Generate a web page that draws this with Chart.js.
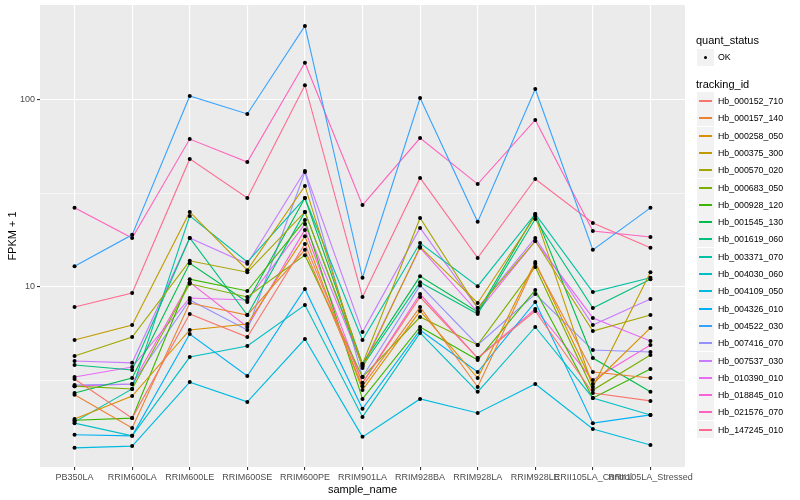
<!DOCTYPE html>
<html>
<head>
<meta charset="utf-8">
<script src="https://cdn.jsdelivr.net/npm/chart.js@4.4.1/dist/chart.umd.min.js"></script>
<style>
  body { margin: 0; background: #fff; font-family: "Liberation Sans", Arial, sans-serif; }
  #wrap { position: relative; width: 800px; height: 500px; }
  #myChart { position: absolute; left: 0; top: 0; }
  .lg-title { position: absolute; left: 696px; font-size: 11px; color: #000; line-height: 13px; }
  .lg-key { position: absolute; left: 697px; width: 17px; height: 17px; background: #F2F2F2; }
  .lg-key i { display: block; position: absolute; left: 2px; right: 2px; top: 8px; height: 2px; }
  .lg-key b { position: absolute; left: 7px; top: 7px; width: 3px; height: 3px; border-radius: 50%; background: #000; }
  .lg-text { position: absolute; left: 718px; font-size: 8.8px; color: #000; line-height: 10px; }
</style>
</head>
<body>
<div id="wrap">
  <canvas id="myChart" width="800" height="500"></canvas>
  <div id="legend"></div>
</div>
<script>
// サンプル名（x軸）
const sampleNames = ['PB350LA', 'RRIM600LA', 'RRIM600LE', 'RRIM600SE', 'RRIM600PE', 'RRIM901LA',
  'RRIM928BA', 'RRIM928LA', 'RRIM928LE', 'RRII105LA_Control', 'RRII105LA_Stressed'];

// tracking_id と色
const trackingIds = ['Hb_000152_710', 'Hb_000157_140', 'Hb_000258_050', 'Hb_000375_300', 'Hb_000570_020',
  'Hb_000683_050', 'Hb_000928_120', 'Hb_001545_130', 'Hb_001619_060', 'Hb_003371_070',
  'Hb_004030_060', 'Hb_004109_050', 'Hb_004326_010', 'Hb_004522_030', 'Hb_007416_070',
  'Hb_007537_030', 'Hb_010390_010', 'Hb_018845_010', 'Hb_021576_070', 'Hb_147245_010'];
const seriesColors = ['#F8766D', '#EA8331', '#D89000', '#C09B00', '#A3A500',
  '#7CAE00', '#39B600', '#00BB4E', '#00BF7D', '#00C1A3',
  '#00BFC4', '#00BAE0', '#00B0F6', '#35A2FF', '#9590FF',
  '#C77CFF', '#E76BF3', '#FA62DB', '#FF62BC', '#FF6C91'];

// FPKM + 1 の値
const hb000152_710 = [3.22, 1.99, 7.17, 5.40, 17.0, 3.07, 8.84, 4.17, 7.44, 2.71, 2.46];
const hb000157_140 = [2.65, 1.76, 8.21, 7.08, 15.8, 2.95, 7.82, 2.92, 13.3, 3.51, 3.26];
const hb000258_050 = [1.97, 2.61, 5.89, 6.34, 18.7, 2.81, 7.44, 3.26, 13.6, 3.03, 6.04];
const hb000375_300 = [5.21, 6.26, 25.2, 12.3, 34.7, 3.69, 16.4, 8.21, 24.0, 2.92, 12.0];
const hb000570_020 = [4.28, 5.40, 13.8, 12.0, 25.2, 3.88, 23.4, 7.72, 17.6, 5.81, 7.08];
const hb000683_050 = [2.95, 2.85, 10.4, 8.84, 14.8, 3.30, 6.91, 4.90, 12.8, 2.81, 4.33];
const hb000928_120 = [1.94, 1.99, 11.0, 9.52, 22.8, 2.52, 6.11, 4.07, 9.64, 2.55, 3.64];
const hb001545_130 = [2.71, 3.26, 13.4, 8.31, 29.9, 3.88, 11.4, 7.35, 24.6, 4.17, 2.75];
const hb001619_060 = [3.83, 3.60, 18.3, 7.08, 25.2, 3.78, 10.6, 7.17, 23.1, 7.72, 11.0];
const hb003371_070 = [1.90, 2.85, 24.0, 13.6, 29.9, 5.21, 17.2, 10.1, 24.6, 9.40, 11.2];
const hb004030_060 = [1.87, 1.60, 4.22, 4.84, 8.01, 2.02, 5.68, 2.75, 6.11, 2.55, 2.07];
const hb004109_050 = [1.38, 1.41, 3.10, 2.43, 5.27, 1.58, 2.52, 2.12, 3.03, 1.74, 1.43];
const hb004326_010 = [1.62, 1.60, 5.61, 3.34, 9.76, 2.23, 5.89, 3.51, 8.31, 1.87, 2.07];
const hb004522_030 = [12.9, 19.0, 105, 84.2, 249, 11.2, 102.5, 22.3, 114.5, 15.8, 26.5];
const hb007416_070 = [2.99, 3.03, 8.52, 5.89, 41.2, 3.30, 10.2, 4.90, 9.17, 4.60, 4.49];
const hb007537_030 = [4.02, 3.93, 18.3, 13.3, 41.7, 5.74, 20.7, 7.72, 18.3, 6.26, 8.63];
const hb010390_010 = [3.30, 3.73, 8.73, 8.52, 21.7, 3.78, 16.2, 7.35, 17.6, 6.83, 5.14];
const hb018845_010 = [2.95, 3.03, 10.6, 6.11, 20.2, 3.07, 9.17, 4.17, 7.63, 3.18, 4.90];
const hb021576_070 = [26.5, 18.3, 61.8, 46.6, 158, 27.4, 62.6, 35.5, 78.2, 19.9, 18.5];
const hb147245_010 = [7.82, 9.29, 48.4, 29.9, 120, 8.84, 38.3, 14.3, 37.8, 22.0, 16.2];

const seriesValues = [hb000152_710, hb000157_140, hb000258_050, hb000375_300, hb000570_020,
  hb000683_050, hb000928_120, hb001545_130, hb001619_060, hb003371_070,
  hb004030_060, hb004109_050, hb004326_010, hb004522_030, hb007416_070,
  hb007537_030, hb010390_010, hb018845_010, hb021576_070, hb147245_010];

// y軸の目盛り（主: 10, 100 / 副: その中間）
const majorTicks = [10, 100];
const minorTicks = [3.162, 31.62];

const FONT = '"Liberation Sans", Arial, sans-serif';

// 線のデータセット
const lineSets = trackingIds.map((id, i) => ({
    label: id,
    data: seriesValues[i].map((v, j) => ({ x: j, y: v })),
    showLine: true,
    borderColor: seriesColors[i],
    borderWidth: 1.1,
    pointRadius: 0,
    tension: 0,
    order: 2
}));

// 点は線の上に描く
const pointSet = {
    label: 'OK',
    data: seriesValues.flatMap(vals => vals.map((v, j) => ({ x: j, y: v }))),
    showLine: false,
    pointRadius: 2,
    pointBackgroundColor: '#000',
    pointBorderWidth: 0,
    order: 1
};

const isMajor = v => majorTicks.includes(v);

new Chart(document.getElementById('myChart').getContext('2d'), {
    type: 'scatter',
    data: { datasets: [...lineSets, pointSet] },
    plugins: [{
        id: 'panelBg',
        beforeDraw(chart) {
            const { ctx, chartArea: a } = chart;
            ctx.save();
            ctx.fillStyle = '#EBEBEB';
            ctx.fillRect(a.left, a.top, a.right - a.left, a.bottom - a.top);
            ctx.restore();
        }
    }],
    options: {
        responsive: false,
        animation: false,
        layout: { padding: { top: 5, right: 115, left: 0, bottom: 0 } },
        plugins: { legend: { display: false }, tooltip: { enabled: false } },
        scales: {
            x: {
                type: 'linear',
                min: -0.6,
                max: sampleNames.length - 1 + 0.6,
                afterBuildTicks: s => { s.ticks = sampleNames.map((_, i) => ({ value: i })); },
                afterFit: s => { s.height = 33; s.paddingLeft = 0; s.paddingRight = 0; },
                border: { display: false },
                grid: { color: '#FFFFFF', lineWidth: 1.1, tickColor: '#333333', tickLength: 3 },
                ticks: {
                    autoSkip: false, maxRotation: 0, padding: 2,
                    color: '#4D4D4D', font: { family: FONT, size: 9 },
                    callback: v => sampleNames[v]
                },
                title: {
                    display: true, text: 'sample_name', color: '#000',
                    font: { family: FONT, size: 11 }, padding: { top: 0, bottom: 3 }
                }
            },
            y: {
                type: 'logarithmic',
                min: 1.09,
                max: 322,
                afterBuildTicks: s => {
                    s.ticks = [...minorTicks, ...majorTicks].sort((a, b) => a - b).map(v => ({ value: v }));
                },
                afterFit: s => { s.width = 40; s.paddingTop = 0; s.paddingBottom = 0; },
                border: { display: false },
                grid: {
                    color: '#FFFFFF',
                    lineWidth: c => (c.tick && isMajor(c.tick.value)) ? 1.1 : 0.55,
                    tickColor: c => (c.tick && isMajor(c.tick.value)) ? '#333333' : 'rgba(0,0,0,0)',
                    tickLength: 3
                },
                ticks: {
                    padding: 2, color: '#4D4D4D', font: { family: FONT, size: 9 },
                    callback: v => isMajor(v) ? String(v) : ''
                },
                title: {
                    display: true, text: 'FPKM + 1', color: '#000',
                    font: { family: FONT, size: 11 }, padding: { top: 6, bottom: 0 }
                }
            }
        }
    }
});

// 凡例（ggplot 風）
const legend = document.getElementById('legend');
let html = '';
html += '<div class="lg-title" style="top:34px">quant_status</div>';
html += '<div class="lg-key" style="top:49px"><b></b></div>';
html += '<div class="lg-text" style="top:52px">OK</div>';
html += '<div class="lg-title" style="top:78px">tracking_id</div>';
trackingIds.forEach((id, i) => {
    const cy = Math.round(101 + i * 17.3);
    html += `<div class="lg-key" style="top:${cy - 9}px"><i style="background:${seriesColors[i]}"></i></div>`;
    html += `<div class="lg-text" style="top:${cy - 5}px">${id}</div>`;
});
legend.innerHTML = html;
</script>
</body>
</html>
